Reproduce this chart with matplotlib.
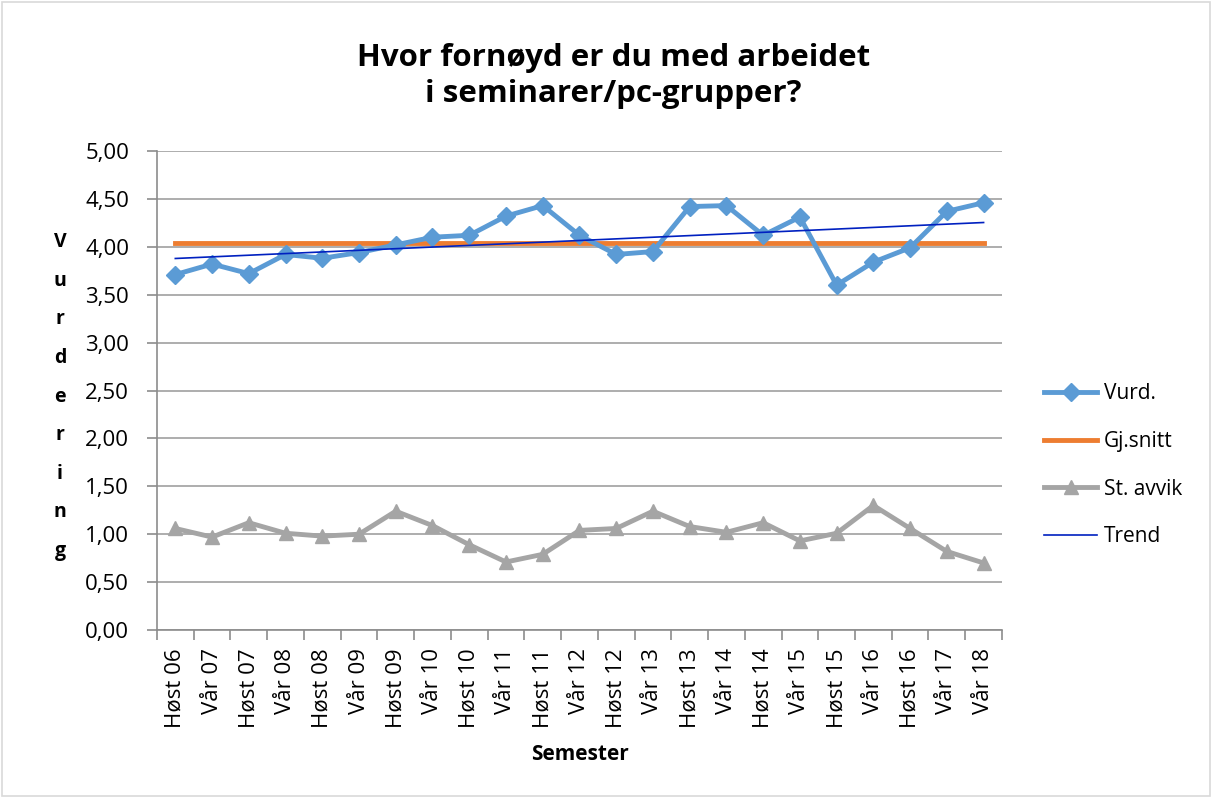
import numpy as np
import matplotlib
matplotlib.use('Agg')
import matplotlib.pyplot as plt
from matplotlib.patches import Rectangle

plt.rcParams['font.family'] = ['Open Sans', 'DejaVu Sans']

semestre = ['Høst 06', 'Vår 07', 'Høst 07', 'Vår 08', 'Høst 08', 'Vår 09', 'Høst 09',
            'Vår 10', 'Høst 10', 'Vår 11', 'Høst 11', 'Vår 12', 'Høst 12', 'Vår 13',
            'Høst 13', 'Vår 14', 'Høst 14', 'Vår 15', 'Høst 15', 'Vår 16', 'Høst 16',
            'Vår 17', 'Vår 18']
vurd = [3.71, 3.82, 3.72, 3.92, 3.88, 3.94, 4.02, 4.10, 4.12, 4.32, 4.43, 4.12,
        3.92, 3.95, 4.42, 4.43, 4.12, 4.31, 3.60, 3.84, 3.99, 4.37, 4.46]
gj_snitt = 4.04
st_avvik = [1.06, 0.97, 1.12, 1.01, 0.98, 1.00, 1.24, 1.09, 0.89, 0.71, 0.79, 1.04,
            1.06, 1.24, 1.08, 1.02, 1.12, 0.93, 1.01, 1.30, 1.06, 0.82, 0.70]

x = np.arange(len(semestre))
# lineaer trend som i Excel
k, m = np.polyfit(x, vurd, 1)
trend = k * x + m

fig = plt.figure(figsize=(12.12, 7.98), dpi=100)
fig.patches.append(Rectangle((0.002, 0.002), 0.996, 0.996, transform=fig.transFigure,
                             fill=False, edgecolor='#d9d9d9', linewidth=1.2))
ax = fig.add_axes([0.1295, 0.2105, 0.6972, 0.6003])

ax.plot(x, vurd, color='#5b9bd5', linewidth=3.5, marker='D', markersize=9, label='Vurd.', zorder=3)
ax.plot(x, [gj_snitt] * len(x), color='#ed7d31', linewidth=3.5, label='Gj.snitt', zorder=2)
ax.plot(x, st_avvik, color='#a5a5a5', linewidth=3.5, marker='^', markersize=10, label='St. avvik', zorder=3)
ax.plot(x, trend, color='#0020c0', linewidth=1.2, label='Trend', zorder=4)

ax.set_xlim(-0.5, len(x) - 0.5)
ax.set_ylim(0, 5)
yt = np.arange(0, 5.01, 0.5)
ax.set_yticks(yt)
ax.set_yticklabels([('%.2f' % v).replace('.', ',') for v in yt], fontsize=16)
ax.yaxis.grid(True, color='#a0a0a0', linewidth=1.2)
ax.set_axisbelow(True)

ax.set_xticks(x)
ax.set_xticklabels(semestre, rotation=90, fontsize=16)
ax.tick_params(axis='x', length=0, pad=13)
ax.set_xticks(np.arange(-0.5, len(x)), minor=True)
ax.tick_params(axis='x', which='minor', length=7, color='#8c8c8c', width=1.2)
ax.tick_params(axis='y', length=7, color='#8c8c8c', width=1.2, pad=13)

for s in ['top', 'right']:
    ax.spines[s].set_visible(False)
for s in ['left', 'bottom']:
    ax.spines[s].set_color('#8c8c8c')
    ax.spines[s].set_linewidth(1.2)

fig.text(0.506, 0.905, 'Hvor fornøyd er du med arbeidet\ni seminarer/pc-grupper?',
         ha='center', va='center', fontsize=22.5, fontweight='bold', linespacing=1.25)
fig.text(0.0495, 0.503, '\n'.join('Vurdering'), ha='center', va='center',
         fontsize=14, fontweight='bold', linespacing=2.24)
fig.text(0.4785, 0.054, 'Semester', ha='center', va='center', fontsize=15, fontweight='bold')

ax.legend(loc='center left', bbox_to_anchor=(1.028, 0.344), frameon=False, fontsize=15,
          labelspacing=1.28, handlelength=2.55, handletextpad=0.3)

fig.savefig('out.png', dpi=100)
